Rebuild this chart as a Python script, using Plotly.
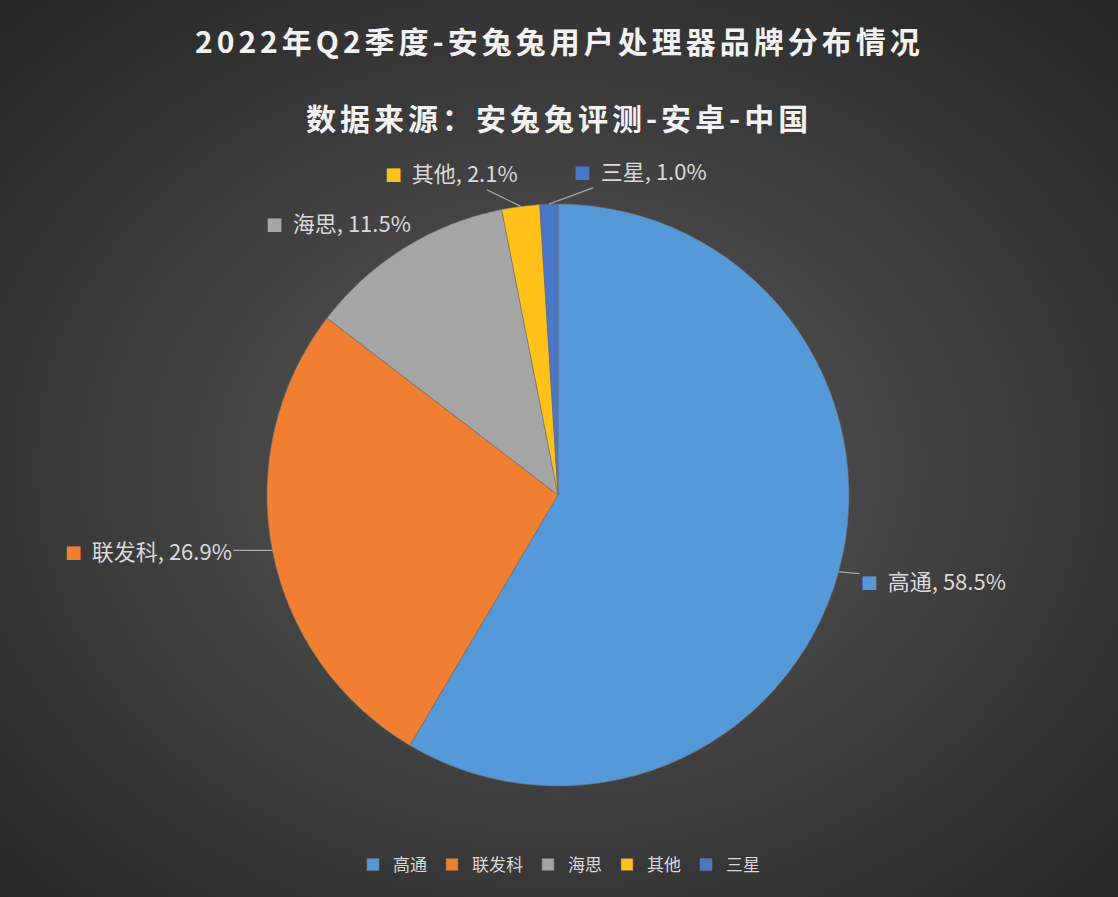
import base64
import math
import plotly.graph_objects as go

# data
brands = ["高通", "联发科", "海思", "其他", "三星"]
shares = [58.5, 26.9, 11.5, 2.1, 1.0]
colors = ["#5599d8", "#f07f31", "#a5a5a5", "#ffc11a", "#4a77c7"]
title_lines = ["2022年Q2季度-安兔兔用户处理器品牌分布情况", "数据来源：安兔兔评测-安卓-中国"]

# label placement (pixel offsets of the text from the slice edge), leader line on/off
label_offsets = [(95, 8), (-124, 0), (-66, -26), (-69, -34), (92, -34)]
leader = [True, True, False, True, True]

W, H = 1118, 897
cx, cy, r = 558, 495, 291  # pie centre / radius in px

# radial gradient background as an svg image
svg = f"""<svg xmlns='http://www.w3.org/2000/svg' width='{W}' height='{H}'>
<defs><radialGradient id='g' cx='50%' cy='52%' r='70%'>
<stop offset='0%' stop-color='#5a5a5a'/><stop offset='100%' stop-color='#262626'/>
</radialGradient></defs><rect width='100%' height='100%' fill='url(#g)'/></svg>"""
bg = "data:image/svg+xml;base64," + base64.b64encode(svg.encode()).decode()

font = "Noto Sans CJK SC, Noto Sans, sans-serif"

fig = go.Figure(go.Pie(
    labels=brands,
    values=shares,
    sort=False,
    direction="clockwise",
    rotation=0,
    textinfo="none",
    hoverinfo="label+percent",
    marker=dict(colors=colors, line=dict(color="#707070", width=0.6)),
    domain=dict(x=[(cx - r) / W, (cx + r) / W], y=[1 - (cy + r) / H, 1 - (cy - r) / H]),
))

# data labels, placed at the middle angle of each slice
total = sum(shares)
start = 0.0
for name, v, c, (ax, ay), ld in zip(brands, shares, colors, label_offsets, leader):
    mid = math.radians((start + v / 2) / total * 360)
    start += v
    px_ = cx + r * math.sin(mid)
    py_ = cy - r * math.cos(mid)
    fig.add_annotation(
        x=px_ / W, y=1 - py_ / H, xref="paper", yref="paper",
        ax=ax, ay=ay,
        text=f"<span style='color:{c};font-size:17px'>■</span>  {name}, {v:.1f}%",
        showarrow=True, arrowhead=0, standoff=0, startstandoff=0,
        arrowwidth=1.2, arrowcolor="#a6a6a6" if ld else "rgba(0,0,0,0)",
        font=dict(family=font, size=22, color="#d9d9d9"),
    )

# two-line title
for line, ty in zip(title_lines, [40, 117]):
    fig.add_annotation(
        x=0.5, y=1 - ty / H, xref="paper", yref="paper", showarrow=False,
        xanchor="center", yanchor="middle",
        text=f"<b><span style='letter-spacing:4px'>{line}</span></b>",
        font=dict(family=font, size=30, color="#f2f2f2"),
    )

fig.update_layout(
    width=W, height=H,
    margin=dict(l=0, r=0, t=0, b=0),
    paper_bgcolor="#3a3a3a",
    images=[dict(source=bg, xref="paper", yref="paper", x=0, y=1, sizex=1, sizey=1,
                 sizing="stretch", layer="below")],
    legend=dict(
        orientation="h", x=0.5, xanchor="center", y=1 - 865 / H, yanchor="middle",
        font=dict(family=font, size=17, color="#d9d9d9"),
        itemwidth=30, bgcolor="rgba(0,0,0,0)",
    ),
)

fig.write_html("out.html", config={"displayModeBar": False},
               post_script="document.body.style.margin='0';")
